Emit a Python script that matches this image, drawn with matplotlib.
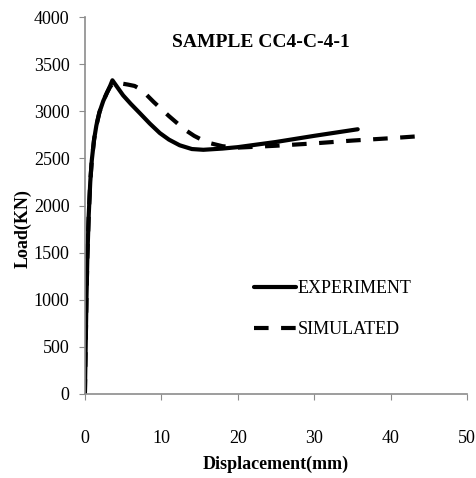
import matplotlib.pyplot as plt

# load-displacement curves
exp_x = [0, 0.1, 0.2, 0.32, 0.5, 0.7, 0.9, 1.2, 1.5, 1.9, 2.4, 2.9, 3.3, 3.6,
         4.3, 5.0, 6.0, 7.2, 8.5, 9.8, 11.0, 12.4, 14.0, 15.5, 18.0, 20.0, 25.0, 30.0, 35.7]
exp_y = [0, 500, 1000, 1450, 1900, 2250, 2480, 2700, 2850, 2990, 3110, 3200, 3270, 3330,
         3250, 3170, 3080, 2980, 2870, 2770, 2700, 2640, 2600, 2592, 2605, 2620, 2675, 2740, 2810]

sim_x = [0, 0.1, 0.2, 0.32, 0.5, 0.7, 0.9, 1.2, 1.5, 1.9, 2.4, 2.9, 3.3, 3.7,
         4.5, 5.6, 6.5, 7.4, 9.0, 11.0, 13.0, 14.3, 15.5, 16.5, 18.0, 20.0, 25.0, 30.0, 35.0, 40.0, 43.5]
sim_y = [0, 500, 1000, 1450, 1900, 2250, 2480, 2700, 2850, 2990, 3110, 3200, 3260, 3300,
         3300, 3285, 3270, 3230, 3100, 2950, 2810, 2740, 2690, 2660, 2630, 2615, 2635, 2660, 2690, 2715, 2735]

plt.rcParams['font.family'] = ['Liberation Serif', 'DejaVu Serif']

fig = plt.figure(figsize=(4.77, 4.78), dpi=100)
ax = fig.add_axes([0.178, 0.176, 0.801, 0.788])

ax.plot(exp_x, exp_y, color='black', lw=3, solid_capstyle='round', solid_joinstyle='round',
        label='EXPERIMENT')
ax.plot(sim_x, sim_y, color='black', lw=3, dashes=(3.5, 3), dash_joinstyle='round',
        label='SIMULATED')

ax.set_xlim(0, 50)
ax.set_ylim(0, 4000)
ax.set_xticks(range(0, 51, 10))
ax.set_yticks(range(0, 4001, 500))

for s in ['top', 'right']:
    ax.spines[s].set_visible(False)
for s in ['left', 'bottom']:
    ax.spines[s].set_color('#8c8c8c')
    ax.spines[s].set_linewidth(1.2)
ax.tick_params(axis='both', colors='#8c8c8c', labelcolor='black', labelsize=13, length=4)
ax.tick_params(axis='x', pad=22)
ax.tick_params(axis='y', pad=7)

ax.set_title('SAMPLE CC4-C-4-1', fontsize=14, fontweight='bold', x=0.46, y=0.9)
ax.set_xlabel('Displacement(mm)', fontsize=13, fontweight='bold')
ax.set_ylabel('Load(KN)', fontsize=13, fontweight='bold')
ax.xaxis.set_label_coords(0.5, -0.165)
ax.yaxis.set_label_coords(-0.14, 0.44)

ax.legend(loc='upper left', bbox_to_anchor=(0.42, 0.325), frameon=False, fontsize=13,
          handlelength=2.3, handletextpad=0.1, labelspacing=1.3, borderpad=0)

fig.savefig('out.png', dpi=100)
